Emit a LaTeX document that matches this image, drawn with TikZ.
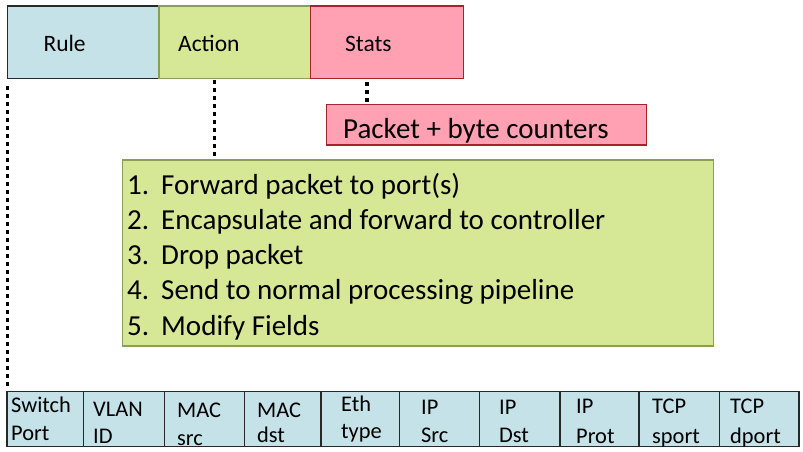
\documentclass[tikz,border=0pt]{standalone}
\usepackage{fontspec}
\setmainfont{Carlito}
\definecolor{ruleblue}{RGB}{197,226,232}
\definecolor{actgreen}{RGB}{214,231,150}
\definecolor{statpink}{RGB}{255,161,178}
\definecolor{greenedge}{RGB}{140,158,86}
\definecolor{pinkedge}{RGB}{165,35,45}
\definecolor{blueedge}{RGB}{40,40,40}
\begin{document}
\begin{tikzpicture}[x=1pt,y=-1pt,
  box/.style={draw, line width=1.3pt, anchor=north west, inner sep=0pt, outer sep=0pt},
  lbl/.style={anchor=base west, inner sep=0pt, font=\fontsize{23.5}{28}\selectfont},
  big/.style={anchor=base west, inner sep=0pt, font=\fontsize{29}{35}\selectfont},
  cell/.style={draw=blueedge, fill=ruleblue, line width=1.2pt, anchor=north west, inner sep=0pt, outer sep=0pt, minimum height=55pt},
  ctext/.style={anchor=base west, inner sep=0pt, font=\fontsize{22.4}{26}\selectfont},
  dots/.style={line width=3.6pt, dash pattern=on 3.6pt off 4.4pt, line cap=butt}
]
\useasboundingbox (0,0) rectangle (803,452);

% top boxes
\node[box, draw=blueedge, fill=ruleblue, minimum width=151.7pt, minimum height=72.3pt] (rule) at (7.3,6) {};
\node[box, draw=greenedge, fill=actgreen, minimum width=151.7pt, minimum height=72.3pt] (action) at (159,6) {};
\node[box, draw=pinkedge, fill=statpink, minimum width=152.6pt, minimum height=72.3pt] (stats) at (310.7,6) {};
\node[lbl] (rulet) at (43.3,51.7) {Rule};
\node[lbl] (actiont) at (178,51.7) {Action};
\node[lbl] (statst) at (345,51.7) {Stats};

% packet counters box
\node[box, draw=pinkedge, fill=statpink, minimum width=320pt, minimum height=40.7pt] (counters) at (326.7,104.3) {};
\node[big] (counterst) at (343,138) {Packet + byte counters};

% action list box
\node[box, draw=greenedge, fill=actgreen, minimum width=591pt, minimum height=186pt] (list) at (122.7,160) {};
\foreach \n/\t [count=\i] in {1/{Forward packet to port(s)},2/{Encapsulate and forward to controller},3/{Drop packet},4/{Send to normal processing pipeline},5/{Modify Fields}}{
  \node[big] (num\i) at (127,{194+35.3*(\i-1)}) {\n.};
  \node[big] (item\i) at (161,{194+35.3*(\i-1)}) {\t};
}

% header fields table
\node[cell, minimum width=76.5pt] (c1) at (7,391.7) {};
\node[cell, minimum width=80.8pt] (c2) at (83.5,391.7) {};
\node[cell, minimum width=80.2pt] (c3) at (164.3,391.7) {};
\node[cell, minimum width=76.5pt] (c4) at (244.5,391.7) {};
\node[cell, minimum width=78.3pt] (c5) at (321,391.7) {};
\node[cell, minimum width=80pt] (c6) at (399.3,391.7) {};
\node[cell, minimum width=80.7pt] (c7) at (479.3,391.7) {};
\node[cell, minimum width=79pt] (c8) at (560,391.7) {};
\node[cell, minimum width=80.3pt] (c9) at (639,391.7) {};
\node[cell, minimum width=79.7pt] (c10) at (719.3,391.7) {};

\foreach \x/\ya/\yb/\ta/\tb [count=\i] in {
  11/412/440/Switch/Port,
  93/416.5/443.5/VLAN/ID,
  177/417/445/MAC/src,
  257/417/442/MAC/dst,
  341/411/438/Eth/type,
  421/414/442/IP/Src,
  499/414/442/IP/Dst,
  576/413/443/IP/Prot,
  652/413/443/TCP/sport,
  730/413/443/TCP/dport}{
  \node[ctext] (ta\i) at (\x,\ya) {\ta};
  \node[ctext] (tb\i) at (\x,\yb) {\tb};
}

% dotted connectors
\coordinate (r1) at (7.3,86);
\coordinate (r2) at (7.3,388);
\coordinate (a1) at (214.3,80);
\coordinate (a2) at (214.3,156);
\coordinate (s1) at (367,82);
\coordinate (s2) at (367,102);
\draw[dots] (r1) -- (r2);
\draw[dots] (a1) -- (a2);
\draw[dots] (s1) -- (s2);
\end{tikzpicture}
\end{document}
